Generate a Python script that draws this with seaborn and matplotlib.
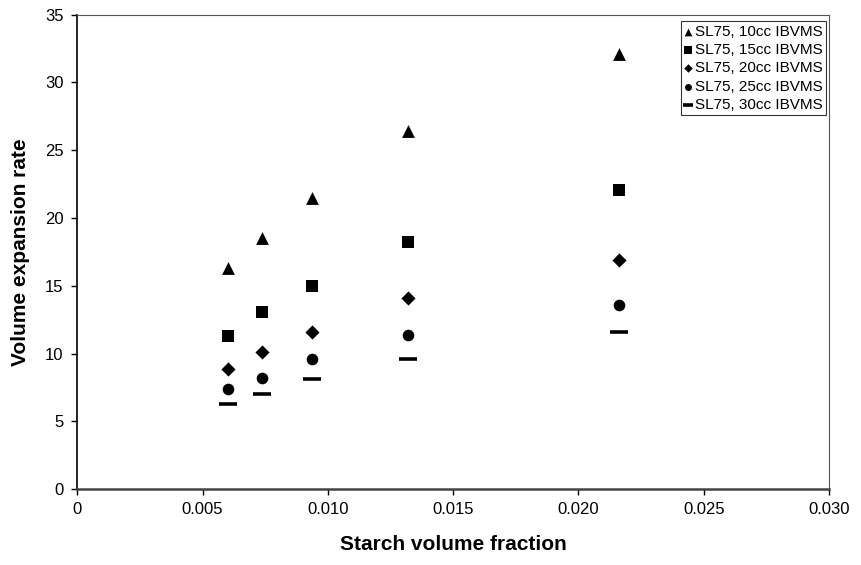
import numpy as np
import pandas as pd
import matplotlib
matplotlib.use("Agg")
import matplotlib.pyplot as plt
import seaborn as sns

# Starch volume fraction (x) shared by all series
starch_fraction = [0.0060, 0.00736, 0.00936, 0.0132, 0.0216]

# Volume expansion rate per IBVMS dose
ibvms_10cc = [16.3, 18.5, 21.5, 26.4, 32.1]
ibvms_15cc = [11.3, 13.1, 15.0, 18.2, 22.1]
ibvms_20cc = [8.9, 10.1, 11.6, 14.1, 16.9]
ibvms_25cc = [7.4, 8.2, 9.6, 11.4, 13.6]
ibvms_30cc = [6.3, 7.0, 8.1, 9.6, 11.6]

series_labels = ["SL75, 10cc IBVMS", "SL75, 15cc IBVMS", "SL75, 20cc IBVMS",
                 "SL75, 25cc IBVMS", "SL75, 30cc IBVMS"]
series_values = [ibvms_10cc, ibvms_15cc, ibvms_20cc, ibvms_25cc, ibvms_30cc]

x_ticks = [0, 0.005, 0.010, 0.015, 0.020, 0.025, 0.030]
x_tick_labels = ["0", "0.005", "0.010", "0.015", "0.020", "0.025", "0.030"]
y_ticks = [0, 5, 10, 15, 20, 25, 30, 35]

sns.set_style("white")
plt.rcParams['font.family'] = ['Liberation Sans', 'DejaVu Sans']
plt.rcParams['text.color'] = 'black'
plt.rcParams['axes.labelcolor'] = 'black'

# marker, size
styles = [("^", 85), ("s", 75), ("D", 52), ("o", 70), ("_", 150)]

fig = plt.figure(figsize=(8.62, 5.65), dpi=100)
ax = fig.add_axes([0.0897, 0.134, 0.872, 0.840])

for label, values, (mk, size) in zip(series_labels, series_values, styles):
    df = pd.DataFrame({"x": starch_fraction, "y": values})
    if mk == "_":
        sns.scatterplot(data=df, x="x", y="y", marker=mk, s=size, color="black",
                        linewidth=2.6, ax=ax, label=label)
    else:
        sns.scatterplot(data=df, x="x", y="y", marker=mk, s=size, color="black",
                        edgecolor="black", linewidth=0, ax=ax, label=label)

ax.set_xlim(0, 0.030)
ax.set_ylim(0, 35)
ax.set_xticks(x_ticks)
ax.set_xticklabels(x_tick_labels)
ax.set_yticks(y_ticks)
ax.tick_params(axis="both", direction="out", length=4, width=1, labelsize=12,
               bottom=True, left=True, colors="black", labelcolor="black")
ax.tick_params(axis="y", pad=6)
ax.tick_params(axis="x", pad=5)

for side in ["top", "right"]:
    ax.spines[side].set_linewidth(0.8)
    ax.spines[side].set_color("#555555")
ax.spines["left"].set_linewidth(1.2)
ax.spines["left"].set_color("black")
ax.spines["bottom"].set_color("#444444")
ax.spines["bottom"].set_linewidth(1.8)

ax.set_xlabel("Starch volume fraction", fontsize=15, fontweight="bold", labelpad=13)
ax.set_ylabel("Volume expansion rate", fontsize=15, fontweight="bold", labelpad=11)

leg = ax.legend(loc="upper right", bbox_to_anchor=(0.9965, 0.986), fontsize=11,
                frameon=True, fancybox=False, markerscale=0.6, handlelength=0.5,
                handletextpad=0.2, borderpad=0.22, labelspacing=0.28,
                borderaxespad=0)
leg.get_frame().set_edgecolor("black")
leg.get_frame().set_linewidth(0.8)

fig.savefig("out.png", dpi=100)
